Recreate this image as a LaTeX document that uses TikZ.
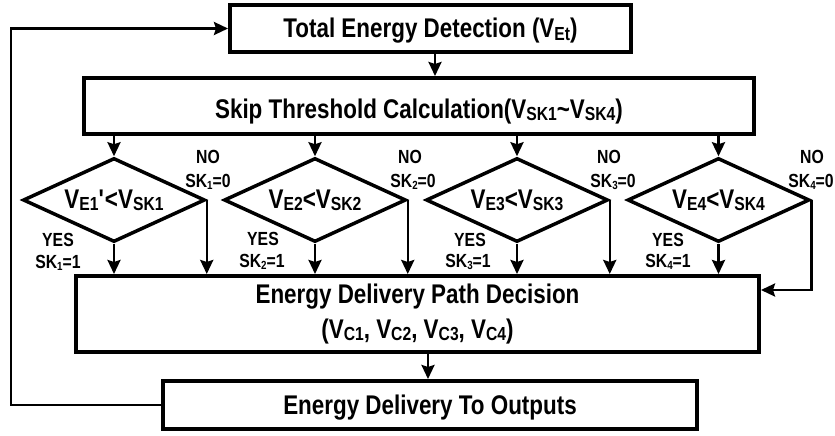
\documentclass[tikz,border=0pt]{standalone}
\usepackage{fontspec}
\setmainfont{Liberation Sans}[FakeStretch=0.83]
\usetikzlibrary{shapes.geometric,arrows.meta}
% lowered, reduced subscripts for the main and the small labels
\newcommand{\lo}[1]{\raisebox{-2pt}{\scalebox{0.7}{#1}}}
\newcommand{\los}[1]{\raisebox{-1.5pt}{\scalebox{0.62}{#1}}}

\begin{document}
\begin{tikzpicture}[x=1pt,y=-1pt,
  font=\fontsize{27}{35}\selectfont\bfseries,
  box/.style={draw, line width=4pt, inner sep=0pt, text depth=0pt},
  dec/.style={diamond, aspect=2.17, draw, line width=3.5pt, minimum width=182pt,
    minimum height=84pt, inner sep=0pt, text height=16pt, text depth=0pt},
  lab/.style={font=\fontsize{19}{22}\selectfont\bfseries, inner sep=0pt},
  arr/.style={-{Stealth[length=14pt,width=13pt,inset=2pt]}, line width=2.5pt}]
\useasboundingbox (0,0) rectangle (835,436);

% process boxes
\node[box, minimum width=401pt, minimum height=47pt, text height=19pt]
  (b1) at (430.5,28.5) {Total Energy Detection (V\lo{Et})};
\node[box, minimum width=670pt, minimum height=56pt, text height=24pt]
  (b2) at (419,106) {Skip Threshold Calculation(V\lo{SK1}\textasciitilde V\lo{SK4})};
\node[box, minimum width=683pt, minimum height=76pt, text height=48pt, align=center]
  (b3) at (417.5,314) {Energy Delivery Path Decision\\(V\lo{C1}, V\lo{C2}, V\lo{C3}, V\lo{C4})};
\node[box, minimum width=534pt, minimum height=48pt, text height=18pt]
  (b4) at (430,405) {Energy Delivery To Outputs};

% comparisons
\node[dec] (d1) at (114,200) {V\lo{E1}\textquotesingle<V\lo{SK1}};
\node[dec] (d2) at (315,200) {V\lo{E2}<V\lo{SK2}};
\node[dec] (d3) at (517,200) {V\lo{E3}<V\lo{SK3}};
\node[dec] (d4) at (718.5,200) {V\lo{E4}<V\lo{SK4}};

% branch labels
\node[lab] (n1) at (208,157) {NO};
\node[lab] (k1) at (208,182) {SK\los{1}=0};
\node[lab] (n2) at (410,157) {NO};
\node[lab] (k2) at (413,182) {SK\los{2}=0};
\node[lab] (n3) at (609,157) {NO};
\node[lab] (k3) at (613,182) {SK\los{3}=0};
\node[lab] (n4) at (812,157) {NO};
\node[lab] (k4) at (811,182) {SK\los{4}=0};

\node[lab] (y1) at (58,240) {YES};
\node[lab] (s1) at (58,263) {SK\los{1}=1};
\node[lab] (y2) at (263,239) {YES};
\node[lab] (s2) at (262,262) {SK\los{2}=1};
\node[lab] (y3) at (470,240) {YES};
\node[lab] (s3) at (468,262) {SK\los{3}=1};
\node[lab] (y4) at (668,240) {YES};
\node[lab] (s4) at (668,262) {SK\los{4}=1};

% main flow
\draw[arr] ([xshift=4.5pt]b1.south) -- ([xshift=4.5pt]b1.south |- b2.north);
\foreach \d in {d1,d2,d3,d4}{
  \draw[arr] (b2.south -| \d.north) -- (\d.north);
  \draw[arr] (\d.south) -- (\d.south |- b3.north);
}
\foreach \d in {d1,d2,d3}{
  \draw[arr] (\d.east) -- (\d.east |- b3.north);
}
\coordinate (c4) at ([yshift=24pt]b3.east);
\draw[arr] (d4.east) -- (d4.east |- c4) -- (c4);
\draw[arr] ([xshift=-2pt]b4.north |- b3.south) -- ([xshift=-2pt]b4.north);

% feedback loop
\coordinate (fb) at ([xshift=-150pt]b4.west);
\draw[arr] (b4.west) -- (fb) |- (b1.west);
\end{tikzpicture}
\end{document}
